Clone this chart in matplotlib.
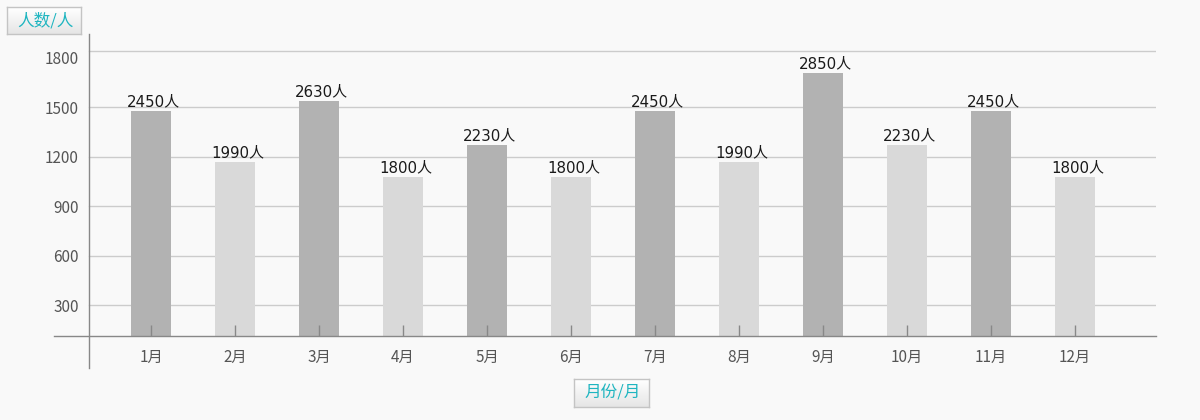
import matplotlib
matplotlib.use("Agg")
import numpy as np
import matplotlib.pyplot as plt

plt.rcParams['font.family'] = ['Noto Sans CJK SC', 'DejaVu Sans']

# data
months = ["1月", "2月", "3月", "4月", "5月", "6月", "7月", "8月", "9月", "10月", "11月", "12月"]
people = [2450, 1990, 2630, 1800, 2230, 1800, 2450, 1990, 2850, 2230, 2450, 1800]
# bar tops as drawn against the y axis (the source chart does not scale them to the labels)
bar_tops = [1476, 1167, 1536, 1076, 1270, 1076, 1476, 1167, 1706, 1270, 1476, 1076]
y_ticks = [300, 600, 900, 1200, 1500, 1800]
grid_lines = [300, 600, 900, 1200, 1500, 1839]
base = 114  # where the x axis crosses

dark, light = "#b2b2b2", "#d9d9d9"
colors = [dark if i % 2 == 0 else light for i in range(len(months))]

W, H = 1200, 420
fig = plt.figure(figsize=(W / 100, H / 100), dpi=100, facecolor="#f9f9f9")
ax = fig.add_axes([54 / W, 1 - 368 / H, (1156 - 54) / W, (368 - 34) / H])
ax.set_facecolor("#f9f9f9")

x = list(range(len(months)))
ax.set_xlim(-1.155, 11.964)
ax.set_ylim(-79.4, 1941.8)
yaxis_x = -0.744

for g in grid_lines:
    ax.plot([yaxis_x, 11.964], [g, g], color="#cccccc", lw=1, zorder=1)

ax.bar(x, [t - base for t in bar_tops], bottom=base, width=0.476, color=colors, zorder=2)
ax.set_axisbelow(False)

for xi, t, v in zip(x, bar_tops, people):
    ax.annotate(f"{v}人", (xi, t), xytext=(1.8, 1.5), textcoords="offset points",
                ha="center", va="bottom", fontsize=10.8, color="#1a1a1a",
                fontfamily=["DejaVu Sans", "Noto Sans CJK SC"], zorder=3)

for s in ["top", "right"]:
    ax.spines[s].set_visible(False)
ax.spines["bottom"].set_position(("data", base))
ax.spines["left"].set_position(("data", yaxis_x))
for s in ["bottom", "left"]:
    ax.spines[s].set_color("#888888")
    ax.spines[s].set_linewidth(1)

ax.set_xticks(x)
ax.set_xticklabels(months)
ax.tick_params(axis="x", direction="in", length=8, width=1, color="#888888",
               labelsize=11, labelcolor="#555555", pad=9)
ax.set_yticks(y_ticks)
ax.tick_params(axis="y", length=0, labelsize=11, labelcolor="#555555", pad=7)

# axis title boxes with a light vertical gradient
grad = np.linspace(1.0, 0.9, 30).reshape(-1, 1)
def title_box(x0, y0, x1, y1, text):
    bax = fig.add_axes([x0 / W, 1 - y1 / H, (x1 - x0) / W, (y1 - y0) / H])
    bax.imshow(np.dstack([grad, grad, grad]), aspect="auto", extent=(0, 1, 0, 1))
    bax.set_xticks([])
    bax.set_yticks([])
    for sp in bax.spines.values():
        sp.set_color("#c4c4c4")
        sp.set_linewidth(1)
    bax.text(0.52, 0.5, text, ha="center", va="center", fontsize=12,
             color="#1fb5c0", transform=bax.transAxes)

title_box(7, 7, 81, 34, "人数/人")
title_box(574, 379, 649, 407, "月份/月")

fig.savefig("out.png", dpi=100, facecolor=fig.get_facecolor())
